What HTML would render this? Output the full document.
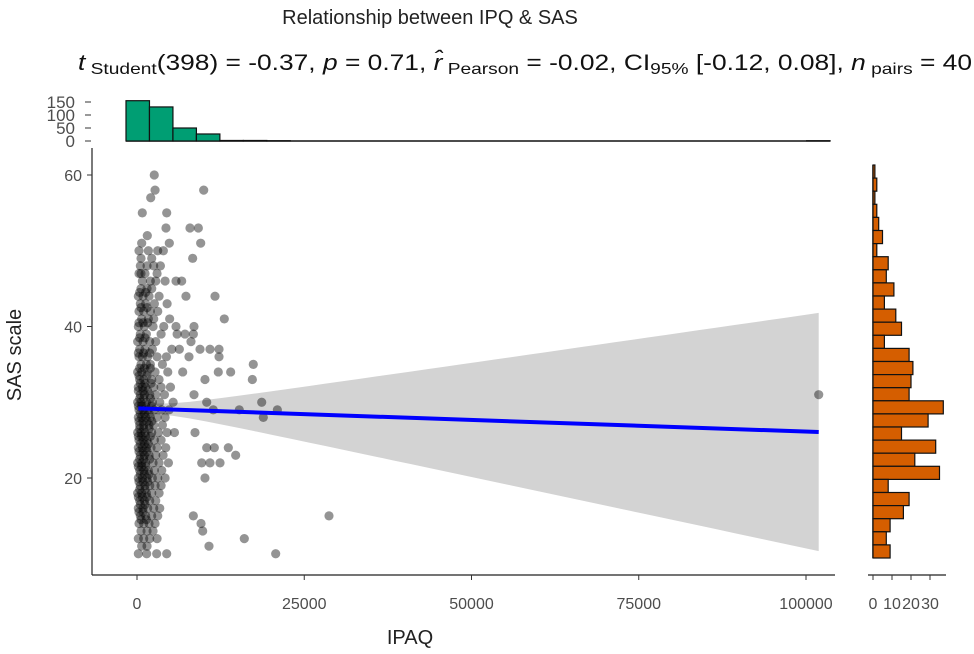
<!DOCTYPE html>
<html><head><meta charset="utf-8">
<style>
html,body{margin:0;padding:0;background:#fff;}
svg{display:block;font-family:"Liberation Sans",sans-serif;}
</style></head>
<body>
<svg id="chart" width="974" height="654" viewBox="0 0 974 654">
  <text x="430" y="24" font-size="20" text-anchor="middle" fill="#222">Relationship between IPQ &amp; SAS</text>
  <text x="78" y="70" font-size="22" fill="#111" textLength="894" lengthAdjust="spacingAndGlyphs"><tspan font-style="italic">t</tspan><tspan font-size="16" dy="4"> Student</tspan><tspan dy="-4">(398) = -0.37, </tspan><tspan font-style="italic">p</tspan><tspan> = 0.71, </tspan><tspan font-style="italic">r̂</tspan><tspan font-size="16" dy="4"> Pearson</tspan><tspan dy="-4"> = -0.02, CI</tspan><tspan font-size="16" dy="4">95%</tspan><tspan dy="-4"> [-0.12, 0.08], </tspan><tspan font-style="italic">n</tspan><tspan font-size="16" dy="4"> pairs</tspan><tspan dy="-4"> = 40</tspan></text>
  <g id="topHist"></g>
  <g id="rightHist"></g>
  <g id="band"></g>
  <g id="points"></g>
  <g id="line"></g>
  <g id="axes"></g>
  <text x="410" y="644" font-size="20" text-anchor="middle" fill="#222">IPAQ</text>
  <text transform="translate(21,355) rotate(-90)" font-size="20" text-anchor="middle" fill="#222">SAS scale</text>
</svg>
<script>
const denseRows = [
 [50,[300,1700]],[49,[600,2200]],
 [48,[500,1500,2500,3500]],[47,[300,1200,3000]],[46,[800,2000,2800,4200]],
 [45,[600,1500,2200]],[44,[200,900,1800,3300]],[43,[500,1300,2600,4500]],
 [42,[300,1000,2000,3100]],[41,[700,1700,2500]],[40,[200,1100,2400,4000]],
 [39,[500,1400,3600,6000]],[38,[100,900,1900,2800]],[37,[400,1200,2300,5200]],
 [36,[300,800,1600,3000,4400]],[35,[600,1400,2000,3800]],[34,[100,700,1500,2700,4600]],
 [33,[400,1000,2200,3300]],[32,[200,800,1300,2500,3600,5000]],[31,[500,1100,1900,2800,4100]],
 [30,[100,600,1400,2300,3400,5400]],[29,[300,900,1600,2600,3700,4800]],[28,[200,700,1300,2000,3000,4200]],
 [27,[400,1000,1800,2500,3800]],[26,[100,600,1200,2200,3200,4500,5600]],[25,[300,900,1500,2600,3600]],
 [24,[200,800,1400,2100,3000,4300]],[23,[500,1100,1800,2800,3900]],[22,[100,700,1300,2400,3300,4700]],
 [21,[400,1000,1700,2600,3700]],[20,[200,800,1500,2300,3100,4200]],[19,[500,1200,1900,2700,3600]],
 [18,[100,700,1400,2200,3300]],[17,[400,1100,1900,2800]],[16,[200,900,1600,2500,3400]],
 [15,[500,1300,2200,3100]],[14,[300,1000,1800,2700]],[13,[600,1500,2400]],[12,[200,1000,1900,3000]],[11,[700,1500]]
];
const denseRows2 = [
 [44.5,[400,1300]],[42.5,[600,1500]],[40.5,[300,900,1600]],[38.5,[400,1200]],[36.5,[200,1000,1900]],
 [34.5,[400,1100,2000]],[33.5,[300,1500]],[32.5,[500,1200,2100]],[31.5,[200,900,1600]],[30.5,[400,1000,2000]],
 [29.5,[200,700,1300,2200]],[28.5,[500,1100,1800]],[27.5,[300,900,1500,2200]],[26.5,[400,1000,1800]],
 [25.5,[200,700,1300,2000]],[24.5,[500,1100,1700]],[23.5,[300,900,1500]],[22.5,[400,1000,1900]],
 [21.5,[200,700,1300]],[20.5,[500,1100,1800]],[19.5,[300,900,1600]],[18.5,[400,1200]],[17.5,[200,800,1500]],
 [16.5,[500,1200]],[15.5,[300,900]],[14.5,[600,1400]]
];
const sparseIpaq = [2580,2700,2050,9970,790,4440,1540,4330,7920,9170,9520,700,4830,3090,3940,8320,600,5830,6680,7320,11660,13050,4880,5830,8520,7170,8420,8070,6330,9420,10910,12260,7770,12260,17380,6830,12150,14000,10160,17240,8520,10420,18640,11400,15290,20980,18880,8670,10420,11560,13650,14750,12410,9670,10910,10160,8420,9570,9820,16040,10760,20730,4440,2940,200,1450,28700,101900];
const sparseSas  = [60,58,57,58,55,55,52,53,53,53,51,51,51,50,50,49,47,46,46,44,44,41,41,40,40,39,39,38,37,37,37,37,36,36,35,34,34,34,33,33,31,30,30,29,29,29,28,26,24,24,24,23,22,22,22,20,15,14,13,12,11,10,10,10,10,10,15,31];
const topCounts = [155,131,50,27,2,2,1,0,0,0,0,0,0,0,0,0,0,0,0,0,0,0,0,0,0,0,0,0,0,1];
const topTicks = [0,50,100,150];
const rightCounts = [1,2,1,2,3,5,2,8,7,11,6,12,15,6,19,21,20,19,37,29,15,33,22,35,8,19,16,9,7,9];
const rightTicks = [0,10,20,30];
const xTicks = [0,25000,50000,75000,100000];
const yTicks = [20,40,60];
const fitIntercept = 29.2, fitSlope = -0.0000307;

const NS="http://www.w3.org/2000/svg";
function mk(tag,attrs,parent){const e=document.createElementNS(NS,tag);for(const k in attrs)e.setAttribute(k,attrs[k]);parent.appendChild(e);return e;}
const xS=v=>137+v*0.00669;
const yS=v=>478-(v-20)*7.575;
const gid=id=>document.getElementById(id);

// band
const bandPts=[];const loPts=[];
for(let i=0;i<=40;i++){const x=200+i*(101900-200)/40;const f=fitIntercept+fitSlope*x;const se=Math.sqrt(0.7*0.7+Math.pow((x-2500)*0.000158,2));bandPts.push(xS(x)+','+yS(f+se));loPts.unshift(xS(x)+','+yS(f-se));}
const band=mk('polygon',{points:bandPts.concat(loPts).join(' '),fill:'#d3d3d3'},gid('band'));



// points
function pt(x,s){const c=mk('circle',{cx:xS(x),cy:yS(s),r:4.6,fill:'#000','fill-opacity':0.42},gid('points'));

}
denseRows.forEach(r=>r[1].forEach(x=>pt(x,r[0])));
denseRows2.forEach(r=>r[1].forEach(x=>pt(x,r[0])));
sparseIpaq.forEach((x,i)=>pt(x,sparseSas[i]));

// line
const ln=mk('line',{x1:xS(200),y1:yS(fitIntercept+fitSlope*200),x2:xS(101900),y2:yS(fitIntercept+fitSlope*101900),stroke:'#0000ff','stroke-width':4},gid('line'));



// axes
const ax=gid('axes');
mk('line',{x1:92,y1:148,x2:92,y2:575,stroke:'#222','stroke-width':1.2},ax);
mk('line',{x1:92,y1:575,x2:835,y2:575,stroke:'#222','stroke-width':1.2},ax);
xTicks.forEach(v=>{mk('line',{x1:xS(v),y1:575,x2:xS(v),y2:580,stroke:'#333'},ax);
const t=mk('text',{x:xS(v),y:609,'font-size':16,'text-anchor':'middle',fill:'#4d4d4d'},ax);t.textContent=v;

});
yTicks.forEach(v=>{mk('line',{x1:87,y1:yS(v),x2:92,y2:yS(v),stroke:'#333'},ax);
const t=mk('text',{x:82,y:yS(v)+6,'font-size':16,'text-anchor':'end',fill:'#4d4d4d'},ax);t.textContent=v;

});

// top histogram
const th=gid('topHist');const tb=141,tk=(141-102)/150,bw=23.47;
mk('line',{x1:126,y1:tb,x2:126+topCounts.length*bw,y2:tb,stroke:'#111','stroke-width':1.4},th);
topCounts.forEach((c,i)=>{const r=mk('rect',{x:126+i*bw,y:tb-c*tk,width:bw,height:c*tk,fill:'#009e73',stroke:'#111','stroke-width':1.2},th);

});
topTicks.forEach(v=>{mk('line',{x1:85,y1:tb-v*tk,x2:91,y2:tb-v*tk,stroke:'#333'},th);
const t=mk('text',{x:75,y:tb-v*tk+6,'font-size':17,'text-anchor':'end',fill:'#4d4d4d'},th);t.textContent=v;

});

// right histogram
const rh=gid('rightHist');const rb=873,rk=1.9,rTop=165,bh=(558-165)/rightCounts.length;
mk('line',{x1:873,y1:165,x2:873,y2:558,stroke:'#111','stroke-width':1.5},rh);
rightCounts.forEach((c,i)=>{const r=mk('rect',{x:rb,y:rTop+i*bh,width:c*rk,height:bh,fill:'#d55e00',stroke:'#111','stroke-width':1.2},rh);

});
mk('line',{x1:868,y1:575,x2:946,y2:575,stroke:'#222','stroke-width':1.2},rh);
rightTicks.forEach(v=>{mk('line',{x1:rb+v*rk,y1:575,x2:rb+v*rk,y2:580,stroke:'#333'},rh);
const t=mk('text',{x:rb+v*rk,y:609,'font-size':16,'text-anchor':'middle',fill:'#4d4d4d'},rh);t.textContent=v;

});
</script>
</body></html>
